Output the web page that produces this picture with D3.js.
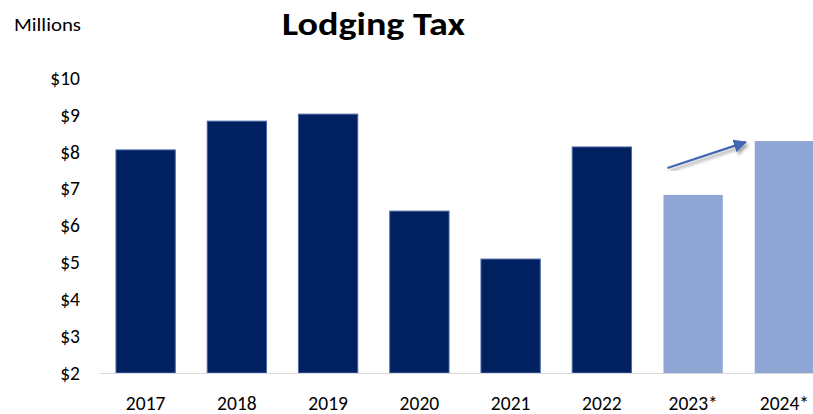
<!DOCTYPE html>
<html><head><meta charset="utf-8">
<script src="https://cdn.jsdelivr.net/npm/d3@7"></script>
<style>body{margin:0;background:#fff}svg{display:block}text{font-family:Carlito,Calibri,Lato,"Open Sans",sans-serif}</style>
</head><body>
<svg id="c" width="813" height="414"></svg>
<script>
const categories = ["2017","2018","2019","2020","2021","2022","2023*","2024*"];
const values = [8.05, 8.83, 9.02, 6.39, 5.09, 8.13, 6.83, 8.29];
const projected = [false,false,false,false,false,false,true,true];
const yTicks = [2,3,4,5,6,7,8,9,10];
const arrowFrom = {cat:"2023*", v:7.56};
const arrowTo = {cat:"2024*", v:8.26};

const FONT = "Carlito,Calibri,Lato,sans-serif";
const svg = d3.select("#c");
const x = d3.scaleBand().domain(categories).range([100, 830]).paddingInner(0.35).paddingOuter(0.175);
const y = d3.scaleLinear().domain([2,10]).range([373, 78]);

svg.append("text").attr("x",14).attr("y",31).attr("font-size",18.5).attr("fill","#000").attr("textLength",67).attr("lengthAdjust","spacingAndGlyphs").text("Millions");
svg.append("text").attr("x",373.5).attr("y",35).attr("text-anchor","middle").attr("font-size",33).attr("font-weight","bold").attr("fill","#000")
  .attr("textLength",183).attr("lengthAdjust","spacingAndGlyphs").text("Lodging Tax");

const ya = svg.append("g").attr("transform","translate(80,0)")
  .call(d3.axisLeft(y).tickValues(yTicks).tickSize(0).tickPadding(0).tickFormat(d=>"$"+d));
ya.select(".domain").remove();
ya.selectAll("text").attr("font-size",19.5).attr("fill","#000").attr("font-family",FONT);

svg.append("g").selectAll("rect").data(categories).join("rect")
  .attr("x",d=>x(d)).attr("width",x.bandwidth())
  .attr("y",(d,i)=>y(values[i])).attr("height",(d,i)=>y(2)-y(values[i]))
  .attr("fill",(d,i)=>projected[i]?"#8FA5D3":"#002060")
  .attr("stroke",(d,i)=>projected[i]?"none":"#4C6AA8").attr("stroke-width",1);

const xa = svg.append("g").attr("transform","translate(0,373)")
  .call(d3.axisBottom(x).tickSize(0).tickPadding(23));
xa.select(".domain").attr("stroke","#d9d9d9").attr("d","M100,0.5H813");
xa.selectAll("text").attr("font-size",19.5).attr("fill","#000").attr("font-family",FONT);

const defs = svg.append("defs");
defs.append("marker").attr("id","ah").attr("viewBox","0 0 10 10").attr("refX",9).attr("refY",5)
  .attr("markerWidth",6).attr("markerHeight",6).attr("orient","auto").attr("markerUnits","strokeWidth")
  .append("path").attr("d","M0,0L10,5L0,10Z").attr("fill","#4266B0");
defs.append("filter").attr("id","sh").append("feDropShadow").attr("dx",2).attr("dy",3).attr("stdDeviation",1.5).attr("flood-color","#000").attr("flood-opacity",0.35);
svg.append("line")
  .attr("x1",x(arrowFrom.cat)+4).attr("y1",y(arrowFrom.v))
  .attr("x2",x(arrowTo.cat)-9).attr("y2",y(arrowTo.v))
  .attr("stroke","#4266B0").attr("stroke-width",2.2).attr("marker-end","url(#ah)").attr("filter","url(#sh)");
</script>
</body></html>
